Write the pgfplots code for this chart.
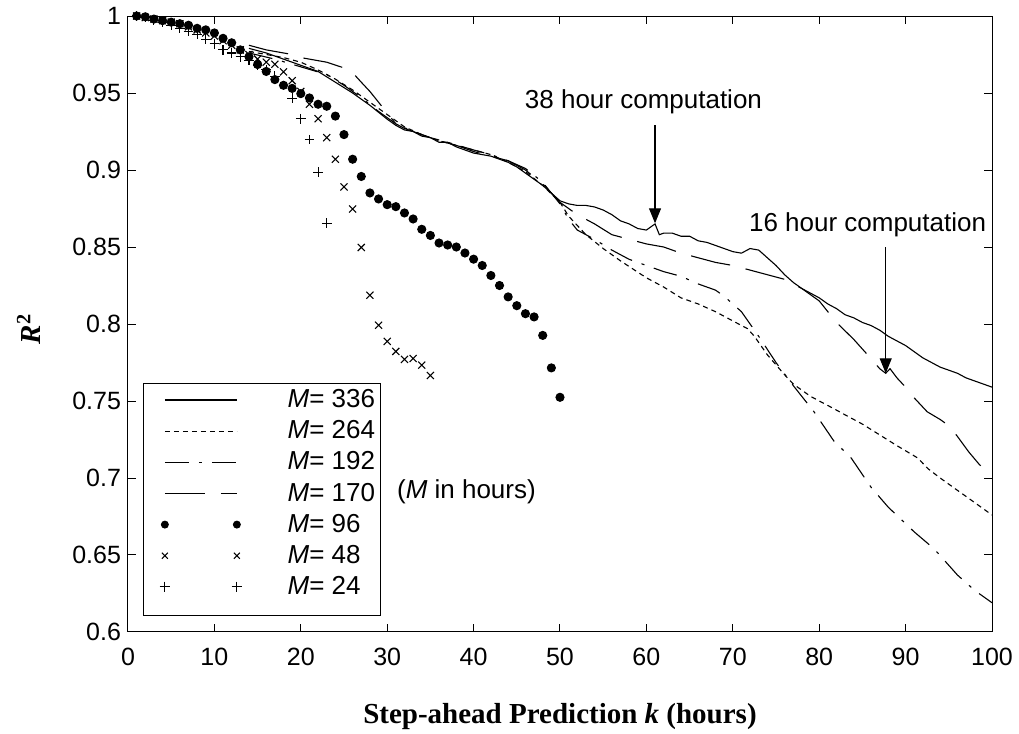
\documentclass[border=0pt]{standalone}
\usepackage{fontspec}
\setmainfont{Liberation Serif}
\newfontfamily\arial{Liberation Sans}
\usepackage{pgfplots}
\pgfplotsset{compat=1.18}
\usetikzlibrary{arrows.meta}
\pgfplotsset{
 lineleg/.style={legend image code/.code={\draw[##1] (0pt,0pt) -- (36pt,0pt);}},
 markleg/.style={legend image code/.code={\draw[##1,only marks,mark size=#1] plot coordinates {(0pt,0pt) (36pt,0pt)};}},
}
\begin{document}
\begin{tikzpicture}
\useasboundingbox (-64pt,-51pt) rectangle (445.5pt,316pt);
\begin{axis}[
 at={(0pt,0pt)}, anchor=south west,
 scale only axis, width=432pt, height=308pt,
 xmin=0, xmax=100, ymin=0.6, ymax=1,
 clip=false,
 axis line style={line width=0.5pt},
 xtick={0,10,20,30,40,50,60,70,80,90,100},
 xticklabels={0,10,20,30,40,50,60,70,80,90,100},
 ytick={0.6,0.65,0.7,0.75,0.8,0.85,0.9,0.95,1},
 yticklabels={0.6,0.65,0.7,0.75,0.8,0.85,0.9,0.95,1},
 tick align=inside, major tick length=4pt,
 tick style={line width=0.5pt, black},
 tick label style={font=\arial\fontsize{12.5}{15}\selectfont},
 /pgf/number format/assume math mode=true,
 xticklabel style={yshift=-4.5pt},
 xlabel={\textbf{Step-ahead Prediction \textit{k} (hours)}},
 xlabel style={font=\fontsize{14.5}{17}\selectfont, at={(axis description cs:0.5,0)}, anchor=base, yshift=-45.7pt},
 ylabel={\textbf{\textit{R}}\textsuperscript{\textbf{2}}},
 ylabel style={font=\fontsize{14.5}{17}\selectfont, at={(axis description cs:-0.1146,0.492)}, anchor=center},
 legend cell align=left,
 legend style={draw=none, fill=none, inner sep=0pt, at={(0.0362,0.3977)}, anchor=north west,
   font=\arial\fontsize{13}{15}\selectfont, row sep=3pt, column sep=21.8pt, nodes={inner sep=1pt}},
 every axis plot/.append style={line width=0.55pt, black},
]
% legend frame
\draw[line width=0.5pt] (axis description cs:0.0185,0.026) rectangle (axis description cs:0.2928,0.4042);

% M = 336
\addplot[lineleg, solid] coordinates {
(14,0.979) (16,0.976) (18,0.972) (20,0.968) (22,0.964) (24,0.957) (26,0.950) (28,0.942) (30,0.933) (31,0.929) (32,0.926) (33,0.925) (34,0.922) (35,0.921) (36,0.918) (37,0.918) (38,0.915) (39,0.913) (40,0.911) (41,0.910) (42,0.909) (43,0.907) (44,0.905) (45,0.902) (46,0.898) (47,0.894) (48,0.890) (49,0.885) (50,0.880) (51,0.878) (52,0.877) (53,0.877) (54,0.876) (55,0.874) (56,0.871) (57,0.867) (58,0.865) (59,0.862) (60,0.861) (61,0.865) (61.5,0.858) (62,0.859) (63,0.859) (64,0.857) (65,0.857) (66,0.854) (67,0.853) (68,0.851) (69,0.849) (70,0.847) (71,0.846) (72,0.849) (73,0.848) (74,0.843) (75,0.838) (76,0.832) (77,0.827) (78,0.823) (79,0.820) (80,0.817) (81,0.813) (82,0.810) (83,0.806) (84,0.804) (85,0.801) (86,0.799) (87,0.796) (88,0.792) (89,0.789) (90,0.786) (91,0.782) (92,0.778) (93,0.775) (94,0.772) (95,0.770) (96,0.768) (97,0.765) (98,0.763) (99,0.761) (100,0.759)};
\addlegendentry{\textit{M}= 336}

% M = 264
\addplot[lineleg, dash pattern=on 2.5pt off 2pt] coordinates {
(14,0.977) (16,0.975) (18,0.973) (20,0.970) (22,0.965) (24,0.959) (26,0.952) (28,0.944) (30,0.936) (32,0.928) (34,0.923) (36,0.919) (38,0.916) (40,0.913) (42,0.910) (44,0.905) (46,0.899) (48,0.890) (50,0.879) (51,0.870) (52,0.864) (53,0.858) (55,0.849) (57,0.841) (60,0.830) (62,0.824) (64,0.817) (66,0.813) (68,0.808) (70,0.802) (71.7,0.797) (72.5,0.792) (74,0.780) (76,0.767) (77,0.761) (79,0.753) (81.7,0.745) (83,0.741) (85,0.735) (87,0.728) (89,0.721) (91.4,0.713) (92.6,0.706) (94,0.700) (96,0.692) (98,0.684) (100,0.676)};
\addlegendentry{\textit{M}= 264}

% M = 192
\addplot[lineleg, dash pattern=on 12pt off 5pt on 1.5pt off 5pt] coordinates {
(14,0.976) (17,0.972) (20,0.967) (23,0.962) (25,0.955) (27,0.947) (29,0.938) (31,0.930) (33,0.925) (35,0.921) (37,0.918) (40,0.913) (42,0.910) (44,0.906) (46,0.901) (48,0.892) (50,0.878) (51,0.868) (52,0.861) (54,0.855) (56,0.848) (58,0.842) (60,0.838) (62,0.834) (64,0.831) (66,0.826) (68,0.822) (69,0.818) (71,0.808) (73,0.792) (75,0.775) (77,0.760) (79.4,0.743) (81.7,0.724) (83.7,0.713) (86,0.694) (88,0.681) (91,0.665) (93.3,0.654) (96,0.637) (98,0.627) (100,0.619)};
\addlegendentry{\textit{M}= 192}

% M = 170
\addplot[lineleg, dash pattern=on 20pt off 8pt] coordinates {
(14,0.981) (16,0.978) (19,0.975) (20,0.973) (21,0.972) (23,0.970) (25.7,0.965) (27,0.957) (28,0.951) (29,0.944) (30,0.937) (31,0.930) (32,0.927) (34,0.923) (36,0.919) (38,0.916) (40,0.912) (42,0.909) (44,0.906) (46,0.900) (48,0.891) (50,0.879) (52,0.871) (54,0.865) (56,0.858) (58,0.855) (60,0.852) (62,0.850) (64,0.846) (66,0.843) (68,0.840) (70,0.838) (72,0.835) (74,0.832) (76,0.829) (78,0.823) (80,0.815) (82,0.801) (84,0.790) (85.6,0.780) (87,0.771) (87.7,0.768) (88.2,0.771) (89,0.765) (90,0.759) (91,0.752) (92.5,0.743) (94,0.738) (95,0.734) (96,0.727) (97.3,0.717) (98.5,0.709) (100,0.701)};
\addlegendentry{\textit{M}= 170}

% M = 96
\addplot[markleg=1.7pt, only marks, mark=*, mark size=2pt, fill=black] coordinates {
(1,1.000) (2,0.9995) (3,0.998) (4,0.997) (5,0.996) (6,0.995) (7,0.994) (8,0.992) (9,0.991) (10,0.989) (11,0.9855) (12,0.9826) (13,0.978) (14,0.9735) (15,0.9685) (16,0.964) (17,0.9587) (18,0.955) (19,0.953) (20,0.9496) (21,0.9468) (22,0.9427) (23,0.9414) (24,0.935) (25,0.923) (26,0.907) (27,0.8958) (28,0.8851) (29,0.8812) (30,0.8775) (31,0.8762) (32,0.8721) (33,0.8682) (34,0.8615) (35,0.8575) (36,0.8526) (37,0.8513) (38,0.8500) (39,0.8461) (40,0.8421) (41,0.8380) (42,0.8315) (43,0.8250) (44,0.8176) (45,0.8119) (46,0.8067) (47,0.8046) (48,0.7926) (49,0.7715) (50,0.7524)};
\addlegendentry{\textit{M}= 96}

% M = 48
\addplot[markleg=2.1pt, only marks, mark=x, mark size=2.5pt] coordinates {
(1,1.000) (2,0.999) (3,0.998) (4,0.997) (5,0.996) (6,0.995) (7,0.993) (8,0.991) (9,0.989) (10,0.987) (11,0.984) (12,0.981) (13,0.978) (14,0.975) (15,0.972) (16,0.970) (17,0.9687) (18,0.9637) (19,0.958) (20,0.951) (21,0.9427) (22,0.9333) (23,0.921) (24,0.907) (25,0.889) (26,0.8747) (27,0.8497) (28,0.8187) (29,0.7992) (30,0.7887) (31,0.7822) (32,0.777) (33,0.7776) (34,0.7733) (35,0.7666)};
\addlegendentry{\textit{M}= 48}

% M = 24
\addplot[markleg=2.6pt, only marks, mark=+, mark size=2.4pt] coordinates {
(1,1.000) (2,0.999) (3,0.997) (4,0.996) (5,0.994) (6,0.992) (7,0.990) (8,0.988) (9,0.985) (10,0.982) (11,0.978) (12,0.976) (13,0.9735) (14,0.971) (15,0.968) (16,0.965) (17,0.961) (18,0.955) (19,0.9466) (20,0.9333) (21,0.9197) (22,0.8986) (23,0.8654)};
\addlegendentry{\textit{M}= 24}

% annotations
\node[font=\arial\fontsize{13}{15}\selectfont, inner sep=0pt] at (axis cs:59.66,0.9442) {38 hour computation};
\draw[line width=0.55pt, -{Triangle[length=7.5pt,width=6pt]}] (axis cs:61,0.929) -- (axis cs:61,0.8654);
\node[font=\arial\fontsize{13}{15}\selectfont, inner sep=0pt] at (axis cs:85.6,0.8643) {16 hour computation};
\draw[line width=0.55pt, -{Triangle[length=7.5pt,width=6pt]}] (axis cs:87.7,0.850) -- (axis cs:87.7,0.768);
\node[font=\arial\fontsize{13}{15}\selectfont, anchor=west, inner sep=0pt] at (axis cs:31.1,0.691) {(\textit{M} in hours)};
\end{axis}
\end{tikzpicture}
\end{document}
